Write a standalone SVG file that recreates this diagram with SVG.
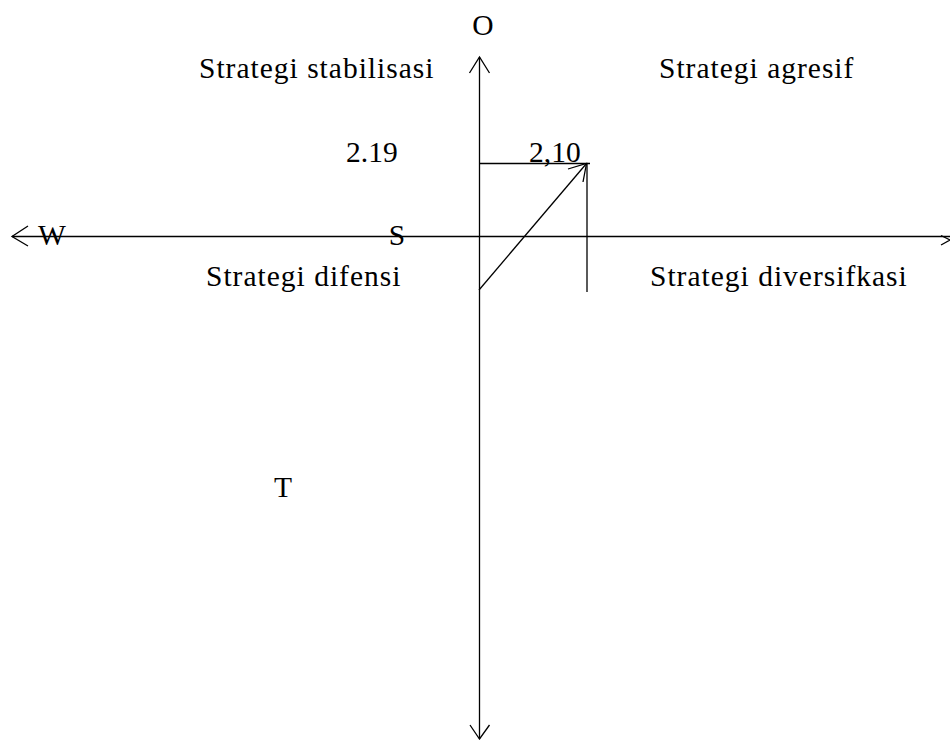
<svg xmlns="http://www.w3.org/2000/svg" width="950" height="740" viewBox="0 0 950 740">
<style>
.t{font-family:"Liberation Serif","Times New Roman",serif;font-size:29.5px;fill:#000}
.q{letter-spacing:1px}
.l{stroke:#000;stroke-width:1.3;fill:none}
</style>
<rect width="950" height="740" fill="#fff"/>
<g id="connectors">
<line class="l" x1="479.5" y1="57" x2="479.5" y2="739"/>
<polyline class="l" points="469.5,73 479.5,57 489.5,73"/>
<polyline class="l" points="470,725 479.5,739 489.5,725"/>
<line class="l" x1="12" y1="236.5" x2="950" y2="236.5"/>
<polyline class="l" points="28,226 12,236.5 28,246"/>
<polyline class="l" points="941,235.5 950,240 941,245"/>
<line class="l" x1="479" y1="163.5" x2="590" y2="163.5"/>
<line class="l" x1="587" y1="163.5" x2="587" y2="292"/>
<line class="l" x1="479" y1="290" x2="586.5" y2="163.5"/>
<polyline class="l" points="568,169 586.5,163.5 583,182"/>
</g>
<g id="label-O"><text class="t" x="483" y="35" text-anchor="middle">O</text></g>
<g id="label-T"><text class="t" x="283" y="497" text-anchor="middle">T</text></g>
<g id="label-W"><text class="t" x="52" y="245" text-anchor="middle">W</text></g>
<g id="label-S"><text class="t" x="397" y="245" text-anchor="middle">S</text></g>
<g id="q-stabilisasi"><text class="t q" x="199" y="78">Strategi stabilisasi</text></g>
<g id="q-agresif"><text class="t q" x="659" y="78">Strategi agresif</text></g>
<g id="q-difensi"><text class="t q" x="206" y="286">Strategi difensi</text></g>
<g id="q-diversifkasi"><text class="t q" x="650" y="286">Strategi diversifkasi</text></g>
<g id="val-219"><text class="t" x="346" y="162">2.19</text></g>
<g id="val-210"><text class="t" x="529" y="162">2,10</text></g>
</svg>
